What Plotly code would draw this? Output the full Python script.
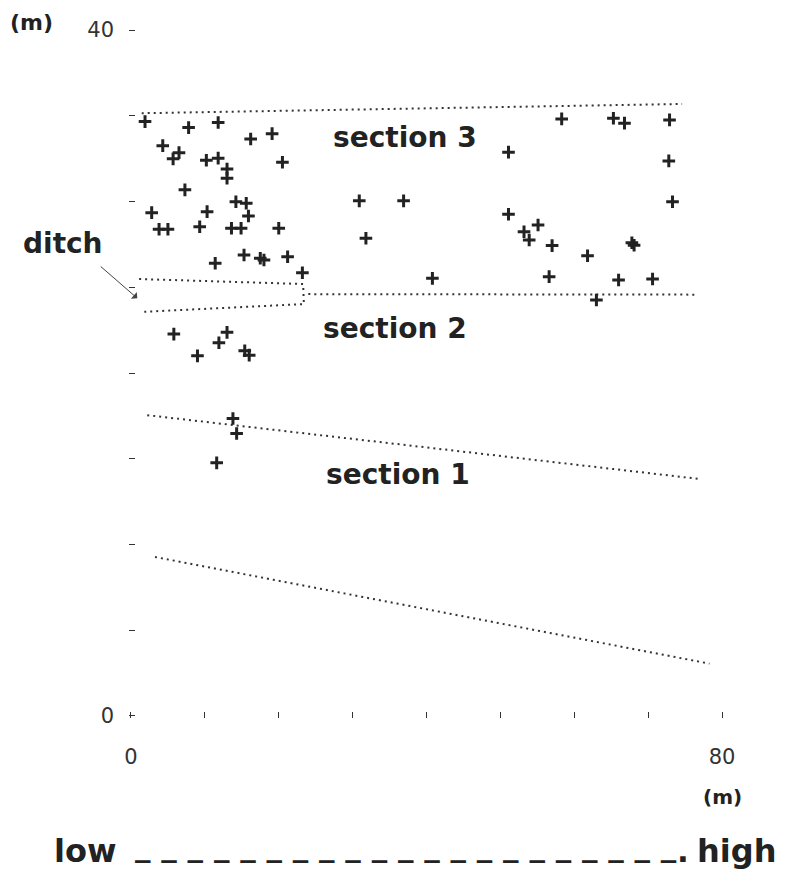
import plotly.graph_objects as go

# ---------------- data (metres) ----------------
pts_x = [1.9, 7.8, 11.8, 16.2, 19.1, 4.3, 6.5, 5.7, 10.2, 11.8, 20.5, 13.0, 13.0, 7.3,
         14.2, 15.6, 2.8, 10.3, 15.9, 3.8, 5.0, 9.3, 13.6, 14.9, 20.0, 11.4, 15.3, 17.5,
         18.0, 21.2, 23.2, 30.9, 36.9, 31.8, 40.8, 58.3, 65.3, 66.8, 72.9, 51.1, 72.8,
         73.3, 51.1, 55.1, 53.2, 53.9, 57.0, 67.8, 68.1, 61.8, 56.6, 66.0, 70.6, 63.0,
         5.8, 13.0, 11.9, 9.0, 15.4, 16.0, 13.8, 14.3, 11.6]
pts_y = [34.66, 34.31, 34.61, 33.65, 33.96, 33.26, 32.85, 32.49, 32.41, 32.53, 32.29,
         31.89, 31.36, 30.68, 29.99, 29.90, 29.35, 29.41, 29.16, 28.38, 28.38, 28.53,
         28.44, 28.44, 28.44, 26.40, 26.88, 26.69, 26.59, 26.78, 25.85, 30.04, 30.04,
         27.86, 25.52, 34.82, 34.86, 34.57, 34.76, 32.88, 32.37, 29.99, 29.26, 28.63,
         28.24, 27.76, 27.43, 27.60, 27.45, 26.84, 25.62, 25.42, 25.48, 24.26, 22.27,
         22.37, 21.76, 21.00, 21.30, 21.04, 17.35, 16.47, 14.76]

# boundary lines
top3_x = [1.45, 74.6]
top3_y = [35.15, 35.69]
ditch_x = [1.1, 23.3, 23.4, 1.8]
ditch_y = [25.48, 25.19, 24.02, 23.57]
top2_x = [24.0, 76.7]
top2_y = [24.60, 24.57]
top1_x = [2.2, 77.15]
top1_y = [17.54, 13.81]
bottom_x = [3.25, 78.3]
bottom_y = [9.27, 3.05]

section_labels = ["section 3", "section 2", "section 1"]
section_x = [37.1, 35.7, 36.1]
section_y = [33.72, 22.62, 14.07]

x_ticks = [0, 10, 20, 30, 40, 50, 60, 70, 80]
x_ticktext = ["0", "", "", "", "", "", "", "", "80"]
y_ticks = [0, 5, 10, 15, 20, 25, 30, 35, 40]
y_ticktext = ["0", "", "", "", "", "", "", "", "40"]

# ---------------- figure ----------------
W, H = 785, 876
L, R, T, B = 129, 61, 28, 158
FONT = "DejaVu Sans"
INK = "#222222"
LINE_INK = "#333333"


def paper(px, py):
    return (px - L) / (W - L - R), ((H - B) - py) / (H - T - B)


fig = go.Figure()

dot = dict(color=LINE_INK, width=2, dash="2px,4px")
for xs, ys in [(top3_x, top3_y), (ditch_x, ditch_y), (top2_x, top2_y),
               (top1_x, top1_y), (bottom_x, bottom_y)]:
    fig.add_trace(go.Scatter(x=xs, y=ys, mode="lines", line=dot,
                             hoverinfo="skip", showlegend=False))

fig.add_trace(go.Scatter(
    x=pts_x, y=pts_y, mode="markers", showlegend=False,
    marker=dict(symbol="cross-thin", size=9, color=INK,
                line=dict(color=INK, width=3))))

annotations = []
for t, x, y in zip(section_labels, section_x, section_y):
    annotations.append(dict(x=x, y=y, xref="x", yref="y", text=t, showarrow=False,
                            font=dict(family=FONT, size=28, color=INK, weight="bold")))


def ptext(px, py, text, size, xanchor="center", yshift=0):
    x, y = paper(px, py)
    return dict(x=x, y=y, xref="paper", yref="paper", text=text, showarrow=False,
                xanchor=xanchor, yanchor="middle", yshift=yshift,
                font=dict(family=FONT, size=size, color=INK, weight="bold"))


# ditch label + arrow
annotations.append(ptext(63, 243, "ditch", 28))
annotations.append(dict(x=0.85, y=24.36, xref="x", yref="y", text="", showarrow=True,
                        ax=-38, ay=-33, arrowhead=1, arrowsize=1.5, arrowwidth=1,
                        arrowcolor="#444444"))

# axis unit labels
annotations.append(ptext(31, 22, "(m)", 22))
annotations.append(ptext(722, 797, "(m)", 20))

# low ---- high
annotations.append(ptext(52, 851, "low", 32, xanchor="left"))
annotations.append(ptext(778, 851, "high", 32, xanchor="right"))
annotations.append(ptext(133, 851, "_ " * 20 + "_", 31, xanchor="left", yshift=6))
annotations.append(ptext(675, 851, ".", 31, xanchor="left"))

axis_common = dict(showgrid=False, zeroline=False, showline=False, ticks="inside",
                   ticklen=6, tickwidth=1.2, tickcolor="#333333",
                   tickfont=dict(family=FONT, size=21, color="#333333"),
                   fixedrange=True)

fig.update_layout(
    width=W, height=H,
    margin=dict(l=L, r=R, t=T, b=B, pad=0),
    paper_bgcolor="white", plot_bgcolor="white",
    xaxis=dict(range=[-0.27, 80.27], tickmode="array", tickvals=x_ticks,
               ticktext=x_ticktext, ticklabelstandoff=24, **axis_common),
    yaxis=dict(range=[-0.12, 40.12], tickmode="array", tickvals=y_ticks,
               ticktext=y_ticktext, ticklabelstandoff=14, **axis_common),
    annotations=annotations,
    showlegend=False,
)

fig.write_html("out.html", config={"displayModeBar": False},
               post_script="document.body.style.margin='0';document.body.style.overflow='hidden';")
